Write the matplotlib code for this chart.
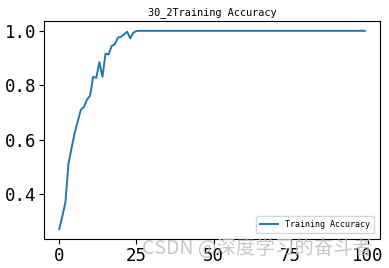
import matplotlib
matplotlib.use("Agg")
import matplotlib.pyplot as plt

# training accuracy per epoch
epochs = list(range(100))
acc_start = [0.271, 0.318, 0.369, 0.512, 0.569, 0.625, 0.667, 0.710, 0.720, 0.747,
             0.762, 0.831, 0.827, 0.885, 0.831, 0.916, 0.913, 0.944, 0.951, 0.975,
             0.978, 0.987, 0.997, 0.972, 0.993, 0.999]
train_acc = acc_start + [1.0] * (100 - len(acc_start))

title = "30_2Training Accuracy"
legend_label = "Training Accuracy"
xticks = [0, 25, 50, 75, 100]
yticks = [0.4, 0.6, 0.8, 1.0]

mono = "DejaVu Sans Mono"

fig = plt.figure(figsize=(3.89, 2.68), dpi=100)
ax = fig.add_axes([0.113, 0.108, 0.864, 0.814])

ax.plot(epochs, train_acc, color="#1f77b4", lw=1.4, label=legend_label)

ax.set_title(title, fontsize=7.4, family=mono, pad=4)
ax.set_xticks(xticks)
ax.set_yticks(yticks)
ax.set_xticklabels([str(t) for t in xticks], fontsize=12.5, family=mono)
ax.set_yticklabels(["0.4", "0.6", "0.8", "1.0"], fontsize=12.5, family=mono)
ax.tick_params(length=3.5, width=0.8, pad=2)

ax.legend(loc="lower right", prop={"family": mono, "size": 6.0},
          handlelength=2.2, borderpad=0.5, borderaxespad=0.7, fancybox=True)

# watermark from the source image
fig.text(0.957, 0.073, "CSDN @深度学习的奋斗者", ha="right", va="center",
         fontsize=14, color="#bdbdbd", alpha=0.85,
         family=["Noto Sans CJK SC", "DejaVu Sans"])

fig.savefig("out.png", dpi=100)
